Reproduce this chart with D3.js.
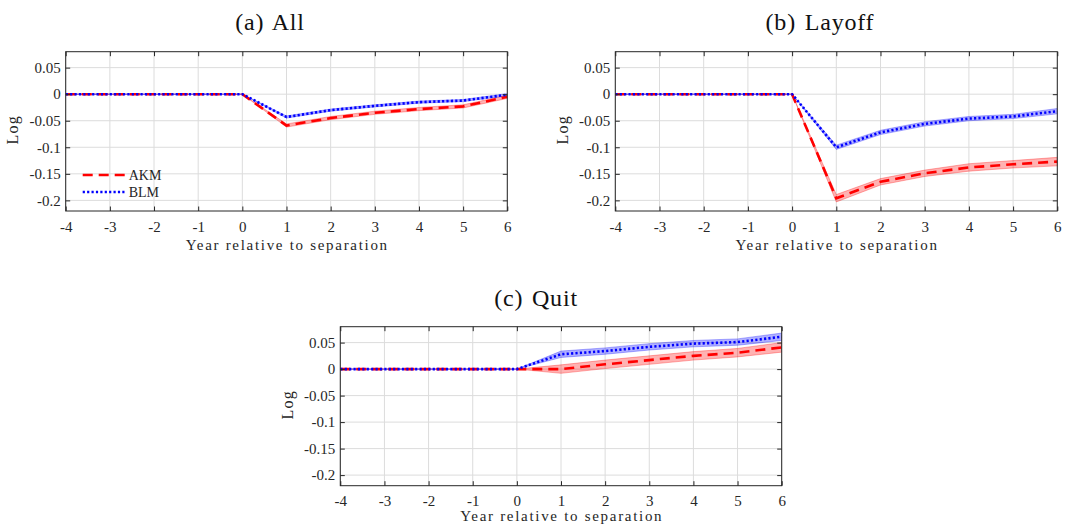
<!DOCTYPE html>
<html><head><meta charset="utf-8">
<script src="https://cdn.jsdelivr.net/npm/d3@7"></script>
<style>body{margin:0;background:#fff}svg{display:block}
svg text{font-family:"Liberation Serif","DejaVu Serif",serif;}</style>
</head><body>
<svg id="c" width="1078" height="525"></svg>
<script>
const years = [-4,-3,-2,-1,0,1,2,3,4,5,6];
const xTicks = [-4,-3,-2,-1,0,1,2,3,4,5,6];
const xTickLabels = ["-4","-3","-2","-1","0","1","2","3","4","5","6"];
const yTicks = [0.05,0,-0.05,-0.1,-0.15,-0.2];
const yTickLabels = ["0.05","0","-0.05","-0.1","-0.15","-0.2"];
const seriesNames = ["AKM","BLM"];
const titles = ["(a) All","(b) Layoff","(c) Quit"];

const allAKM   = [0,0,0,0,0,-0.059,-0.045,-0.035,-0.028,-0.023,-0.005];
const allAKMlo = [0,0,0,0,0,-0.062,-0.048,-0.038,-0.031,-0.026,-0.008];
const allAKMhi = [0,0,0,0,0,-0.056,-0.042,-0.032,-0.025,-0.020,-0.002];
const allBLM   = [0,0,0,0,0,-0.043,-0.030,-0.022,-0.015,-0.012,-0.001];
const allBLMlo = [0,0,0,0,0,-0.045,-0.032,-0.024,-0.017,-0.014,-0.003];
const allBLMhi = [0,0,0,0,0,-0.041,-0.028,-0.020,-0.013,-0.010,0.001];

const layAKM   = [0,0,0,0,0,-0.196,-0.165,-0.149,-0.138,-0.132,-0.127];
const layAKMlo = [0,0,0,0,0,-0.203,-0.171,-0.155,-0.145,-0.139,-0.135];
const layAKMhi = [0,0,0,0,0,-0.189,-0.159,-0.143,-0.131,-0.125,-0.119];
const layBLM   = [0,0,0,0,0,-0.100,-0.072,-0.056,-0.046,-0.042,-0.032];
const layBLMlo = [0,0,0,0,0,-0.104,-0.076,-0.060,-0.050,-0.046,-0.037];
const layBLMhi = [0,0,0,0,0,-0.096,-0.068,-0.052,-0.042,-0.038,-0.027];

const quitAKM   = [0,0,0,0,0,0.000,0.009,0.017,0.025,0.031,0.041];
const quitAKMlo = [0,0,0,0,0,-0.008,0.001,0.009,0.017,0.023,0.032];
const quitAKMhi = [0,0,0,0,0,0.008,0.017,0.025,0.033,0.039,0.050];
const quitBLM   = [0,0,0,0,0,0.028,0.034,0.042,0.048,0.051,0.061];
const quitBLMlo = [0,0,0,0,0,0.022,0.028,0.036,0.042,0.045,0.054];
const quitBLMhi = [0,0,0,0,0,0.034,0.040,0.048,0.054,0.057,0.068];

const svg = d3.select("#c");

const panels = [
  {title:titles[0], tx:270, ty:30, left:65.7, top:51.7, w:441.6, h:159.3, xlOff:38.5,
   akm:allAKM, akmLo:allAKMlo, akmHi:allAKMhi, blm:allBLM, blmLo:allBLMlo, blmHi:allBLMhi, legend:true},
  {title:titles[1], tx:820, ty:30, left:615.3, top:51.7, w:442, h:159.3, xlOff:38.5,
   akm:layAKM, akmLo:layAKMlo, akmHi:layAKMhi, blm:layBLM, blmLo:layBLMlo, blmHi:layBLMhi, legend:false},
  {title:titles[2], tx:536, ty:306, left:340.3, top:326.7, w:441.4, h:159, xlOff:35.2,
   akm:quitAKM, akmLo:quitAKMlo, akmHi:quitAKMhi, blm:quitBLM, blmLo:quitBLMlo, blmHi:quitBLMhi, legend:false}
];

panels.forEach(p => {
  const x = d3.scaleLinear().domain([-4,6]).range([p.left, p.left+p.w]);
  const y = d3.scaleLinear().domain([-0.22,0.08]).range([p.top+p.h, p.top]);
  const g = svg.append("g");

  svg.append("text").attr("x",p.tx).attr("y",p.ty).attr("text-anchor","middle")
    .style("font-size","24px").style("letter-spacing","0.8px").style("word-spacing","2px")
    .attr("fill","#111").text(p.title);

  g.append("g").selectAll("line").data(xTicks).join("line")
    .attr("x1",d=>x(d)).attr("x2",d=>x(d)).attr("y1",p.top).attr("y2",p.top+p.h)
    .attr("stroke","#dcdcdc").attr("stroke-width",1);
  g.append("g").selectAll("line").data(yTicks).join("line")
    .attr("y1",d=>y(d)).attr("y2",d=>y(d)).attr("x1",p.left).attr("x2",p.left+p.w)
    .attr("stroke","#dcdcdc").attr("stroke-width",1);

  const clip = "clip"+Math.round(p.left);
  svg.append("clipPath").attr("id",clip).append("rect")
    .attr("x",p.left).attr("y",p.top).attr("width",p.w).attr("height",p.h);
  const pg = g.append("g").attr("clip-path",`url(#${clip})`);

  const area = (lo,hi) => d3.area().x((d,i)=>x(years[i])).y0((d,i)=>y(lo[i])).y1((d,i)=>y(hi[i]))(years);
  const line = (v) => d3.line().x((d,i)=>x(years[i])).y((d,i)=>y(v[i]))(years);

  pg.append("path").attr("d",area(p.akmLo,p.akmHi)).attr("fill","#ff0000").attr("fill-opacity",0.3)
    .attr("stroke","#ff0000").attr("stroke-opacity",0.3).attr("stroke-width",1);
  pg.append("path").attr("d",area(p.blmLo,p.blmHi)).attr("fill","#0000ff").attr("fill-opacity",0.3)
    .attr("stroke","#0000ff").attr("stroke-opacity",0.3).attr("stroke-width",1);
  pg.append("path").attr("d",line(p.akm)).attr("fill","none").attr("stroke","#ff0000")
    .attr("stroke-width",2.6).attr("stroke-dasharray","10,6");
  pg.append("path").attr("d",line(p.blm)).attr("fill","none").attr("stroke","#0000ff")
    .attr("stroke-width",2.6).attr("stroke-dasharray","2.2,2.2");

  g.append("rect").attr("x",p.left).attr("y",p.top).attr("width",p.w).attr("height",p.h)
    .attr("fill","none").attr("stroke","#262626").attr("stroke-width",1);

  const tl = 4.5;
  const axB = d3.axisBottom(x).tickValues(xTicks).tickSize(-tl).tickPadding(10).tickFormat((d,i)=>xTickLabels[i]);
  const axT = d3.axisTop(x).tickValues(xTicks).tickSize(-tl).tickFormat("");
  const axL = d3.axisLeft(y).tickValues(yTicks).tickSize(-tl).tickPadding(5).tickFormat((d,i)=>yTickLabels[i]);
  const axR = d3.axisRight(y).tickValues(yTicks).tickSize(-tl).tickFormat("");
  const styleAx = sel => {
    sel.attr("font-family",null).attr("font-size",null);
    sel.select(".domain").remove();
    sel.selectAll(".tick line").attr("stroke","#262626");
    sel.selectAll(".tick text").style("font-size","15px").attr("fill","#262626");
  };
  g.append("g").attr("transform",`translate(0,${p.top+p.h})`).call(axB).call(styleAx);
  g.append("g").attr("transform",`translate(0,${p.top})`).call(axT).call(styleAx);
  g.append("g").attr("transform",`translate(${p.left},0)`).call(axL).call(styleAx);
  g.append("g").attr("transform",`translate(${p.left+p.w},0)`).call(axR).call(styleAx);

  g.append("text").attr("x",p.left+p.w/2+0.8).attr("y",p.top+p.h+p.xlOff).attr("text-anchor","middle")
    .style("font-size","15px").style("letter-spacing","1.7px").attr("fill","#262626").text("Year relative to separation");
  g.append("text").attr("transform",`translate(${p.left-47.5},${p.top+p.h/2-1.5}) rotate(-90)`)
    .attr("text-anchor","middle").style("font-size","16px").style("letter-spacing","1.2px").attr("fill","#262626").text("Log");

  if (p.legend) {
    const lx = p.left+17, ly1 = 175, ly2 = 192;
    g.append("line").attr("x1",lx).attr("x2",lx+42).attr("y1",ly1).attr("y2",ly1)
      .attr("stroke","#ff0000").attr("stroke-width",2.6).attr("stroke-dasharray","10,6");
    g.append("line").attr("x1",lx).attr("x2",lx+42).attr("y1",ly2).attr("y2",ly2)
      .attr("stroke","#0000ff").attr("stroke-width",2.6).attr("stroke-dasharray","2.2,2.2");
    g.append("text").attr("x",lx+46).attr("y",ly1+4.5).style("font-size","14px")
      .attr("fill","#262626").text(seriesNames[0]);
    g.append("text").attr("x",lx+46).attr("y",ly2+4.5).style("font-size","14px")
      .attr("fill","#262626").text(seriesNames[1]);
  }
});
</script>
</body></html>
